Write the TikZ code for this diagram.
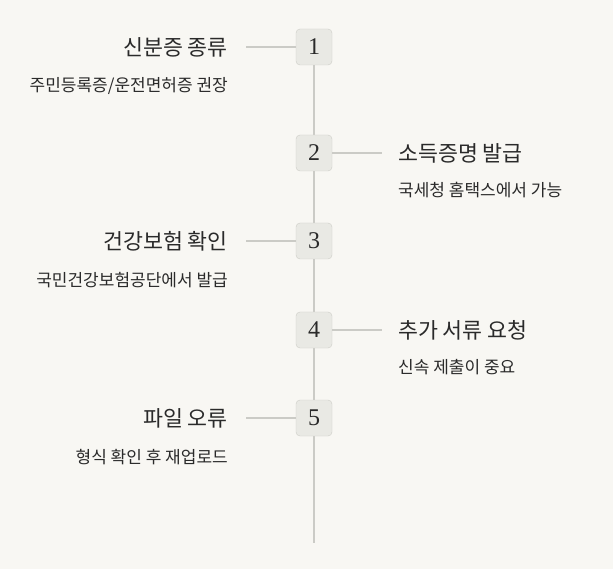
\documentclass[tikz,border=0pt]{standalone}
\usepackage{fontspec}
\newfontfamily\kr{Noto Sans CJK KR}
\setmainfont{Liberation Serif}
\definecolor{bg}{HTML}{F8F7F3}
\definecolor{ln}{HTML}{CBCBC6}
\definecolor{bx}{HTML}{E9E9E4}
\definecolor{bxb}{HTML}{CDCDC7}
\definecolor{tx}{HTML}{2A2A2A}
\tikzset{x=1pt,y=-1pt,
 numbox/.style={draw=bxb,fill=bx,rounded corners=4pt,minimum size=36pt,inner sep=0pt,font=\fontsize{24}{24}\selectfont,text=tx},
 ttl/.style={font=\kr\fontsize{21.7}{21.7}\selectfont,text=tx,inner sep=0pt},
 sub/.style={font=\kr\fontsize{17}{17}\selectfont,text=tx,inner sep=0pt},
 conn/.style={draw=ln,line width=1.6pt}}
\begin{document}
\begin{tikzpicture}
\fill[bg] (0,0) rectangle (613,569);
\useasboundingbox (0,0) rectangle (613,569);
\coordinate (top) at (314,30);
\coordinate (bot) at (314,543);
\draw[ln,line width=1.2pt] (top)--(bot);
\foreach \n/\y in {1/47,2/153,3/241,4/330,5/418}{
  \node[numbox] (b\n) at (314,\y) {\n};}
% left
\foreach \n/\y/\t/\s in {1/47/신분증 종류/주민등록증{/}운전면허증 권장,3/241/건강보험 확인/국민건강보험공단에서 발급,5/418/파일 오류/형식 확인 후 재업로드}{
  \coordinate (l\n) at (246,\y);
  \draw[conn] (l\n)--(b\n.west);
  \node[ttl,anchor=east] (t\n) at (228,\y) {\t};
  \node[sub,anchor=east] (s\n) at (228,\y+39) {\s};}
% right
\foreach \n/\y/\t/\s in {2/153/소득증명 발급/국세청 홈택스에서 가능,4/330/추가 서류 요청/신속 제출이 중요}{
  \coordinate (r\n) at (382,\y);
  \draw[conn] (b\n.east)--(r\n);
  \node[ttl,anchor=west] (t\n) at (398,\y) {\t};
  \node[sub,anchor=west] (s\n) at (398,\y+37) {\s};}
\end{tikzpicture}
\end{document}
